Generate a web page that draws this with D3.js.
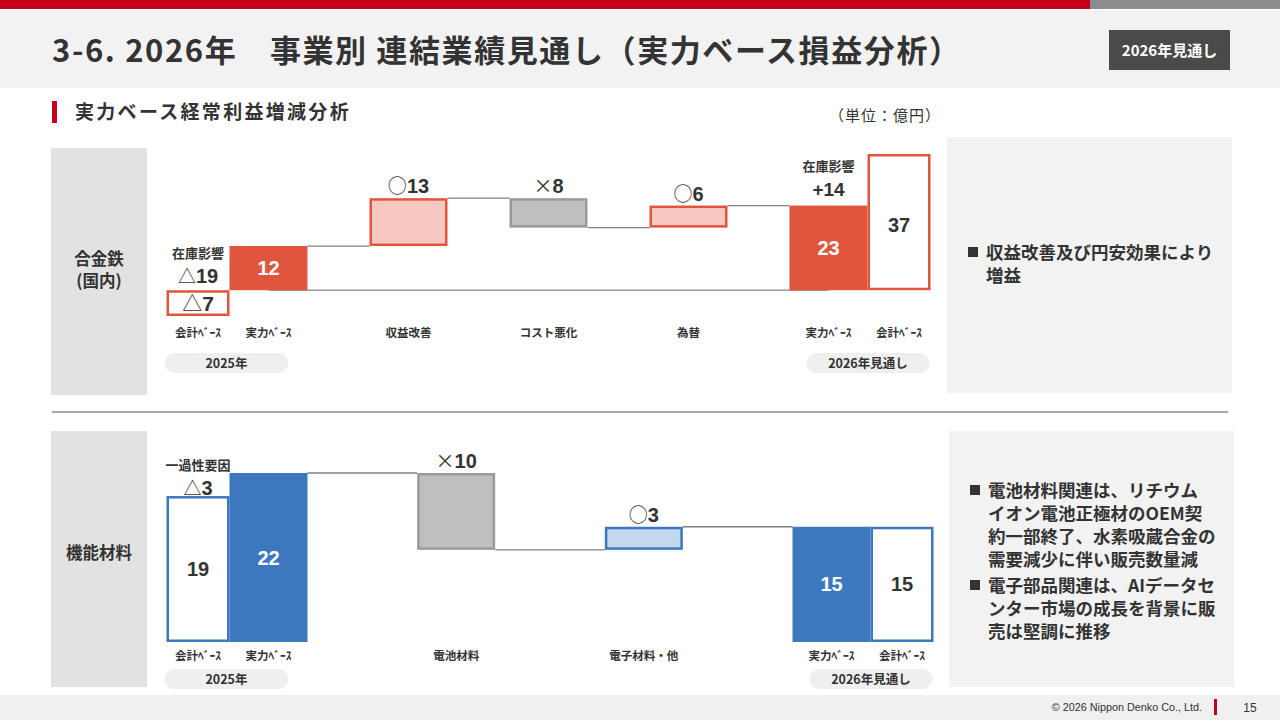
<!DOCTYPE html>
<html><head><meta charset="utf-8">
<script src="https://cdn.jsdelivr.net/npm/d3@7"></script>
<style>
html,body{margin:0;padding:0;background:#fff;}
svg{display:block;font-family:"Noto Sans CJK JP","Noto Sans",sans-serif;}
</style></head>
<body>
<svg id="c" width="1280" height="720"></svg>
<script>
// ---------- data ----------
const title = "3-6. 2026年　事業別 連結業績見通し（実力ベース損益分析）";
const badge = "2026年見通し";
const subtitle = "実力ベース経常利益増減分析";
const unit = "（単位：億円）";
const yearLabels = ["2025年", "2026年見通し"];
const accLabel = "会計ﾍﾞｰｽ";

// 合金鉄（国内）
const alloyCats = ["実力ﾍﾞｰｽ", "収益改善", "コスト悪化", "為替", "実力ﾍﾞｰｽ "];
const alloyValues = [12, 13, -8, 6, 23];
const alloyKinds = ["total", "up", "down", "up", "total"];
const alloyAccounting = [-7, 37];
const alloyAdjNote = ["在庫影響", "在庫影響"];
const alloyAdjValue = ["△19", "+14"];
const alloyComment = ["収益改善及び円安効果により", "増益"];

// 機能材料
const funcCats = ["実力ﾍﾞｰｽ", "電池材料", "電子材料・他", "実力ﾍﾞｰｽ "];
const funcValues = [22, -10, 3, 15];
const funcKinds = ["total", "down", "up", "total"];
const funcAccounting = [19, 15];
const funcAdjNote = ["一過性要因", null];
const funcAdjValue = ["△3", null];
const funcComment1 = ["電池材料関連は、リチウム", "イオン電池正極材のOEM契", "約一部終了、水素吸蔵合金の", "需要減少に伴い販売数量減"];
const funcComment2 = ["電子部品関連は、AIデータセ", "ンター市場の成長を背景に販", "売は堅調に推移"];

// ---------- page frame ----------
const svg = d3.select("#c");
svg.append("rect").attr("x",0).attr("y",0).attr("width",1090).attr("height",9).attr("fill","#c4001a");
svg.append("rect").attr("x",1090).attr("y",0).attr("width",190).attr("height",9).attr("fill","#8c8c8c");
svg.append("rect").attr("x",0).attr("y",10).attr("width",1280).attr("height",78).attr("fill","#f2f2f2");
svg.append("text").attr("x",52).attr("y",62).attr("font-size",31).attr("letter-spacing",1.6).attr("font-weight",700).attr("fill","#333").text(title);
svg.append("rect").attr("x",1109).attr("y",30).attr("width",121).attr("height",40).attr("fill","#4a4a4a");
svg.append("text").attr("x",1169.5).attr("y",56).attr("text-anchor","middle").attr("font-size",15).attr("font-weight",700).attr("fill","#fff").text(badge);

svg.append("rect").attr("x",52).attr("y",101).attr("width",5).attr("height",22).attr("fill","#c4001a");
svg.append("text").attr("x",75).attr("y",119).attr("font-size",19).attr("letter-spacing",2.3).attr("font-weight",700).attr("fill","#333").text(subtitle);
svg.append("text").attr("x",829).attr("y",121).attr("font-size",15).attr("letter-spacing",1).attr("fill","#333").text(unit);

// footer
svg.append("rect").attr("x",0).attr("y",695).attr("width",1280).attr("height",25).attr("fill","#f0f0f0");
svg.append("text").attr("x",1202).attr("y",711).attr("text-anchor","end").attr("font-size",10.8).attr("font-family","Liberation Sans, Arial, sans-serif").attr("fill","#333").text("© 2026 Nippon Denko Co., Ltd.");
svg.append("rect").attr("x",1214).attr("y",699).attr("width",3).attr("height",16).attr("fill","#c4001a");
svg.append("text").attr("x",1250).attr("y",712).attr("text-anchor","middle").attr("font-size",12).attr("font-family","Liberation Sans, Arial, sans-serif").attr("fill","#333").text("15");

// divider
svg.append("line").attr("x1",52).attr("x2",1228).attr("y1",412).attr("y2",412).attr("stroke","#8a8a8a").attr("stroke-width",1.5);

// ---------- panel helper ----------
function panel(cfg){
  const g = svg.append("g");
  // left label box
  g.append("rect").attr("x",51).attr("y",cfg.boxTop).attr("width",96).attr("height",cfg.boxH).attr("fill","#e2e2e2");
  cfg.name.forEach((t,i)=>{
    g.append("text").attr("x",99).attr("y",cfg.nameY + i*22).attr("text-anchor","middle")
      .attr("font-size",16.5).attr("font-weight",700).attr("fill","#333").text(t);
  });
  // right comment box
  g.append("rect").attr("x",cfg.rightX).attr("y",cfg.rightTop).attr("width",285).attr("height",cfg.rightH).attr("fill","#f2f2f2");
  let yy = cfg.commentY;
  cfg.comments.forEach(lines=>{
    g.append("rect").attr("x",cfg.rightX+21).attr("y",yy-12).attr("width",10).attr("height",10).attr("fill","#333");
    lines.forEach((t,i)=>{
      g.append("text").attr("x",cfg.rightX+39).attr("y",yy+i*23).attr("font-size",17.5).attr("font-weight",700).attr("fill","#333").text(t);
    });
    yy += lines.length*23 + 3;
  });

  const x = d3.scalePoint().domain(cfg.cats).range(cfg.xRange);
  const y = d3.scaleLinear().domain(cfg.yDomain).range(cfg.yRange);
  const bw = 78, aw = 63;
  const C = cfg.colors;

  // compute waterfall
  let run = 0;
  const bars = cfg.values.map((v,i)=>{
    const k = cfg.kinds[i];
    let y0, y1;
    if(k==="total"){ y0 = 0; y1 = v; run = v; }
    else { y0 = run; y1 = run + v; run = y1; }
    return {cat:cfg.cats[i], v, k, y0, y1};
  });

  // baseline
  if(cfg.baseline){
    g.append("line").attr("x1",x(cfg.cats[0])).attr("x2",x(cfg.cats[cfg.cats.length-1]))
      .attr("y1",y(0)).attr("y2",y(0)).attr("stroke","#9a9a9a").attr("stroke-width",1.5);
  }
  // connectors
  for(let i=0;i<bars.length-1;i++){
    const lvl = bars[i].y1;
    g.append("line").attr("x1",x(bars[i].cat)+bw/2).attr("x2",x(bars[i+1].cat)-bw/2)
      .attr("y1",y(lvl)).attr("y2",y(lvl)).attr("stroke","#808080").attr("stroke-width",1.3);
  }
  // bars
  bars.forEach(b=>{
    const top = y(Math.max(b.y0,b.y1)), bot = y(Math.min(b.y0,b.y1));
    const fill = b.k==="total"?C.total : b.k==="up"?C.up : "#bfbfbf";
    const stroke = b.k==="total"?"none" : b.k==="up"?C.total : "#9a9a9a";
    const sw = b.k==="total"?0:2.5;
    g.append("rect").attr("x",x(b.cat)-bw/2+sw/2).attr("y",top+sw/2)
      .attr("width",bw-sw).attr("height",bot-top-sw).attr("fill",fill)
      .attr("stroke",stroke).attr("stroke-width",sw);
    if(b.k==="total"){
      g.append("text").attr("x",x(b.cat)).attr("y",(top+bot)/2+7).attr("text-anchor","middle")
        .attr("font-size",20).attr("font-weight",700).attr("fill","#fff")
        .attr("font-family","Liberation Sans, Arial, sans-serif").text(b.v);
    } else {
      const sym = b.k==="up" ? "○" : "×";
      const t = g.append("text").attr("x",x(b.cat)).attr("y",top-5).attr("text-anchor","middle")
        .attr("font-weight",700).attr("fill","#333");
      t.append("tspan").attr("font-size",19).attr("font-weight",400).text(sym);
      t.append("tspan").attr("font-size",20).attr("font-family","Liberation Sans, Arial, sans-serif").text(Math.abs(b.v));
    }
  });

  // accounting-basis bars
  const first = bars[0], last = bars[bars.length-1];
  const accX = [x(first.cat)-bw/2-aw, x(last.cat)+bw/2];
  cfg.accounting.forEach((v,i)=>{
    const top = y(Math.max(0,v)), bot = y(Math.min(0,v));
    g.append("rect").attr("x",accX[i]+1.25).attr("y",top+1.25).attr("width",aw-2.5).attr("height",bot-top-2.5)
      .attr("fill","#fff").attr("stroke",C.total).attr("stroke-width",2.5);
    const cx = accX[i]+aw/2;
    let ty;
    if(v<0){ ty = (top+bot)/2+8; }
    else if(cfg.accLabelTop && cfg.accLabelTop[i]){ ty = top + cfg.accLabelTop[i]; }
    else { ty = (top+bot)/2+7; }
    const t = g.append("text").attr("x",cx).attr("y",ty).attr("text-anchor","middle").attr("fill","#333").attr("font-weight",700);
    if(v<0){
      t.append("tspan").attr("font-size",20).attr("font-weight",400).text("△");
      t.append("tspan").attr("font-size",21).attr("font-family","Liberation Sans, Arial, sans-serif").text(Math.abs(v));
    } else {
      t.attr("font-size",20).attr("font-family","Liberation Sans, Arial, sans-serif").text(v);
    }
    // adjustment notes
    if(cfg.adjNote[i]){
      const ax = i===0 ? cx : x(last.cat);
      const baseY = i===0 ? cfg.adjY0 : y(last.y1) - 10;
      g.append("text").attr("x",ax).attr("y",baseY-25).attr("text-anchor","middle")
        .attr("font-size",13).attr("font-weight",700).attr("fill","#333").text(cfg.adjNote[i]);
      const av = cfg.adjValue[i];
      const tt = g.append("text").attr("x",ax).attr("y",baseY).attr("text-anchor","middle").attr("fill","#333").attr("font-weight",700);
      if(av.startsWith("△")){
        tt.append("tspan").attr("font-size",18).attr("font-weight",400).text("△");
        tt.append("tspan").attr("font-size",20).attr("font-family","Liberation Sans, Arial, sans-serif").text(av.slice(1));
      } else {
        tt.attr("font-size",19).attr("font-family","Liberation Sans, Arial, sans-serif").text(av);
      }
    }
    // category label
    g.append("text").attr("x",cx).attr("y",cfg.labelY).attr("text-anchor","middle")
      .attr("font-size",11.5).attr("font-weight",700).attr("fill","#333").text(accLabel);
  });

  // category labels
  bars.forEach(b=>{
    g.append("text").attr("x",x(b.cat)).attr("y",cfg.labelY).attr("text-anchor","middle")
      .attr("font-size",11.5).attr("font-weight",700).attr("fill","#333").text(b.cat.trim());
  });

  // year pills
  const pills = [[accX[0]-2, x(first.cat)+20], [x(last.cat)-22, accX[1]+aw-1]];
  pills.forEach((p,i)=>{
    g.append("rect").attr("x",p[0]).attr("y",cfg.pillY).attr("width",p[1]-p[0]).attr("height",20)
      .attr("rx",10).attr("fill","#efefef");
    g.append("text").attr("x",(p[0]+p[1])/2).attr("y",cfg.pillY+15).attr("text-anchor","middle")
      .attr("font-size",12.5).attr("font-weight",700).attr("fill","#333").text(yearLabels[i]);
  });
}

panel({
  name:["合金鉄","(国内)"], nameY:265, boxTop:148, boxH:247,
  rightX:947, rightTop:137, rightH:256, commentY:259,
  comments:[alloyComment],
  cats:alloyCats, values:alloyValues, kinds:alloyKinds, accounting:alloyAccounting,
  adjNote:alloyAdjNote, adjValue:alloyAdjValue, adjY0:283,
  xRange:[268.5, 828.5], yDomain:[-7,37], yRange:[316,154],
  colors:{total:"#e0553d", up:"#f7c8c1"},
  baseline:true, labelY:337, pillY:353, accLabelTop:[null,78]
});

panel({
  name:["機能材料"], nameY:559, boxTop:431, boxH:256,
  rightX:949, rightTop:431, rightH:256, commentY:497,
  comments:[funcComment1, funcComment2],
  cats:funcCats, values:funcValues, kinds:funcKinds, accounting:funcAccounting,
  adjNote:funcAdjNote, adjValue:funcAdjValue, adjY0:495,
  xRange:[268.5, 831.5], yDomain:[0,22], yRange:[642,473],
  colors:{total:"#3d77bd", up:"#c3d7ee"},
  baseline:false, labelY:660, pillY:669, accLabelTop:null
});
</script>
</body></html>
